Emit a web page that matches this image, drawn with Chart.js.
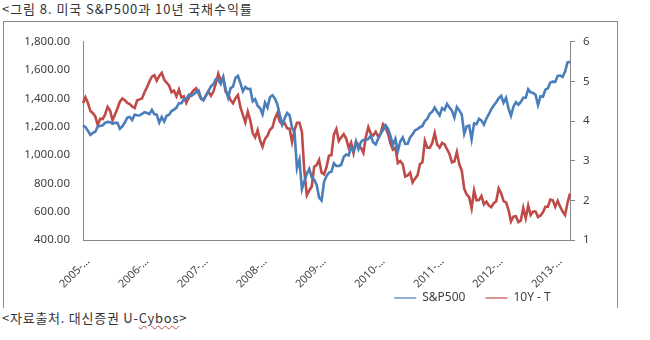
<!DOCTYPE html>
<html>
<head>
<meta charset="utf-8">
<script src="https://cdn.jsdelivr.net/npm/chart.js@4"></script>
<style>
  html, body { margin: 0; padding: 0; background: #fff; }
  body { width: 650px; height: 340px; position: relative; overflow: hidden;
         font-family: "Noto Sans CJK KR", "Noto Sans", sans-serif; color: #333; }
  #title { position: absolute; left: 2px; top: 0px; font-size: 13px; line-height: 18px; letter-spacing: 0.95px; white-space: nowrap; }
  #frame { position: absolute; left: 3px; top: 21px; width: 615px; height: 287px;
           box-sizing: border-box; border: 1px solid #8a8a8a; border-bottom: none; }
  #frame canvas { display: block; }
  #source { position: absolute; left: 2px; top: 309px; font-size: 13px; line-height: 18px; letter-spacing: 0.75px; white-space: nowrap; }
  .typo { text-decoration: underline wavy #c0504d; text-decoration-thickness: 1px; text-underline-offset: 2px; }
</style>
</head>
<body>
<div id="title">&lt;그림 8. 미국 S&amp;P500과 10년 국채수익률</div>
<div id="frame"><canvas id="chart" width="613" height="286"></canvas></div>
<div id="source">&lt;자료출처. 대신증권 U-<span class="typo">Cybos</span>&gt;</div>
<script>
/* --- Data: 1st and 15th of each month, 2005-03 .. 2013-06 --- */
var startYear = 2005;
var startMonth = 3;
var tickEvery = 24; // one label a year

var spx = [
  // 2005 (Mar-Dec)
  1210, 1198, 1172, 1143, 1157, 1165, 1202, 1206, 1211, 1228,
  1235, 1233, 1221, 1228, 1228, 1186, 1203, 1230, 1265, 1270,
  // 2006
  1248, 1285, 1282, 1280, 1292, 1303, 1297, 1290, 1320, 1290, 1285, 1230,
  1270, 1237, 1278, 1285, 1311, 1321, 1336, 1366, 1367, 1396, 1396, 1427,
  // 2007
  1418, 1431, 1445, 1456, 1403, 1387, 1421, 1452, 1486, 1501, 1536, 1532,
  1503, 1553, 1465, 1406, 1473, 1484, 1547, 1560, 1508, 1451, 1481, 1467,
  // 2008
  1468, 1380, 1395, 1349, 1331, 1288, 1370, 1335, 1409, 1423, 1400, 1360,
  1284, 1215, 1260, 1298, 1282, 1193, 1161, 907, 968, 760, 816, 868,
  // 2009
  903, 843, 826, 790, 700, 680, 811, 852, 877, 882, 942, 923,
  923, 932, 987, 1004, 998, 1052, 1029, 1096, 1042, 1093, 1108, 1107,
  // 2010
  1115, 1136, 1089, 1075, 1115, 1150, 1178, 1211, 1187, 1136, 1070, 1115,
  1027, 1096, 1125, 1079, 1080, 1125, 1146, 1176, 1184, 1197, 1206, 1241,
  // 2011
  1257, 1293, 1307, 1336, 1306, 1281, 1332, 1319, 1361, 1337, 1314, 1265,
  1340, 1316, 1286, 1150, 1204, 1209, 1110, 1224, 1218, 1257, 1244, 1215,
  // 2012
  1258, 1289, 1324, 1350, 1374, 1402, 1419, 1370, 1405, 1330, 1278, 1342,
  1374, 1356, 1376, 1405, 1406, 1465, 1444, 1440, 1427, 1354, 1416, 1413,
  // 2013 (Jan - Jun 1)
  1462, 1472, 1513, 1519, 1518, 1560, 1562, 1553, 1590, 1655, 1660
];

var tnx = [
  // 2005 (Mar-Dec)
  4.45, 4.60, 4.46, 4.26, 4.20, 4.12, 3.90, 4.06, 4.05, 4.17,
  4.36, 4.27, 4.02, 4.17, 4.32, 4.49, 4.57, 4.53, 4.46, 4.43,
  // 2006
  4.37, 4.33, 4.52, 4.55, 4.57, 4.73, 4.85, 5.00, 5.12, 5.16, 5.02, 5.14,
  5.22, 5.05, 4.97, 4.90, 4.73, 4.77, 4.63, 4.80, 4.60, 4.63, 4.46, 4.59,
  // 2007
  4.70, 4.78, 4.83, 4.70, 4.56, 4.54, 4.65, 4.75, 4.64, 4.74, 4.95, 5.20,
  5.03, 5.09, 4.74, 4.68, 4.53, 4.45, 4.58, 4.66, 4.35, 4.16, 3.97, 4.24,
  // 2008
  4.02, 3.70, 3.59, 3.77, 3.51, 3.35, 3.55, 3.63, 3.78, 3.84, 4.06, 4.20,
  3.99, 3.92, 3.95, 3.82, 3.81, 3.47, 3.78, 3.96, 3.96, 3.73, 2.73, 2.13,
  // 2009
  2.25, 2.35, 2.85, 2.89, 3.02, 2.70, 2.66, 2.84, 3.13, 3.14, 3.66, 3.80,
  3.50, 3.59, 3.67, 3.56, 3.33, 3.46, 3.19, 3.48, 3.39, 3.33, 3.20, 3.60,
  // 2010
  3.85, 3.68, 3.64, 3.73, 3.61, 3.69, 3.92, 3.83, 3.69, 3.44, 3.28, 3.33,
  2.94, 2.99, 2.91, 2.60, 2.63, 2.70, 2.45, 2.55, 2.63, 2.92, 2.96, 3.50,
  // 2011
  3.33, 3.33, 3.45, 3.70, 3.41, 3.33, 3.45, 3.41, 3.29, 3.17, 2.96, 2.98,
  3.22, 2.91, 2.75, 2.29, 2.15, 2.08, 1.80, 2.25, 2.00, 2.01, 2.11, 1.90,
  // 2012
  1.97, 1.87, 1.83, 1.93, 1.98, 2.30, 2.18, 1.98, 1.95, 1.76, 1.47, 1.59,
  1.60, 1.45, 1.49, 1.81, 1.55, 1.87, 1.63, 1.72, 1.72, 1.58, 1.62, 1.70,
  // 2013 (Jan - Jun 1)
  1.84, 1.84, 2.02, 2.00, 1.84, 1.99, 1.84, 1.72, 1.63, 1.94, 2.17
];

var leftTicks = [400, 600, 800, 1000, 1200, 1400, 1600, 1800];
var rightTicks = [1, 2, 3, 4, 5, 6];

/* --- Category labels (dates) --- */
function pad2(n) { return (n < 10 ? "0" : "") + n; }
var labels = [];
for (var i = 0; i < spx.length; i++) {
  var m = startMonth - 1 + Math.floor(i / 2);
  var y = startYear + Math.floor(m / 12);
  labels.push(y + "-" + pad2((m % 12) + 1) + "-" + (i % 2 ? "15" : "01"));
}

var BLUE = "#4a7ebb";
var RED = "#be4b48";
var AXIS = "#868686";
var FONT = '"Noto Sans", "Noto Sans CJK KR", sans-serif';

Chart.defaults.font.family = FONT;
Chart.defaults.color = "#404040";

/* move the legend: the original sits right of centre, close under the labels.
   the legend clips to its own box, so grow the box upward instead of moving it */
var legendShift = {
  id: "legendShift",
  afterLayout: function (chart) {
    var lg = chart.legend;
    if (!lg) return;
    lg.left += 162;
    lg.right += 162;
    lg.top -= 18;
  }
};

new Chart(document.getElementById("chart"), {
  type: "line",
  data: {
    labels: labels,
    datasets: [
      {
        label: "S&P500",
        data: spx,
        borderColor: BLUE,
        backgroundColor: BLUE,
        borderWidth: 2.6,
        pointRadius: 0,
        tension: 0,
        yAxisID: "y"
      },
      {
        label: "10Y - T",
        data: tnx,
        borderColor: RED,
        backgroundColor: RED,
        borderWidth: 2.6,
        pointRadius: 0,
        tension: 0,
        yAxisID: "y1"
      }
    ]
  },
  options: {
    responsive: false,
    animation: false,
    layout: { padding: { top: 16, left: 0, right: 0, bottom: 0 } },
    plugins: {
      tooltip: { enabled: false },
      legend: {
        position: "bottom",
        maxHeight: 18,
        labels: {
          usePointStyle: true,
          pointStyle: "line",
          pointStyleWidth: 22,
          padding: 20,
          color: "#404040",
          font: { size: 12 },
          generateLabels: function (chart) {
            var items = Chart.defaults.plugins.legend.labels.generateLabels(chart);
            items.forEach(function (it) { it.lineWidth = 1.2; });
            return items;
          }
        }
      }
    },
    scales: {
      x: {
        type: "category",
        offset: false,
        grid: { display: false, drawTicks: false },
        border: { color: AXIS, width: 1 },
        ticks: {
          autoSkip: false,
          maxRotation: 45,
          minRotation: 45,
          padding: 15,
          labelOffset: 5,
          font: { size: 11 },
          callback: function (v, idx) {
            if (idx % tickEvery !== 0) return null;
            return this.getLabelForValue(v).slice(0, 5) + "…";
          }
        },
        afterFit: function (s) { s.height = 50; }
      },
      y: {
        position: "left",
        min: 400,
        max: 1800,
        afterBuildTicks: function (s) {
          s.ticks = leftTicks.map(function (v) { return { value: v }; });
        },
        grid: { display: false, drawTicks: false },
        border: { color: AXIS, width: 1 },
        ticks: {
          padding: 13,
          font: { size: 11.5 },
          callback: function (v) {
            return Number(v).toLocaleString("en-US", { minimumFractionDigits: 2, maximumFractionDigits: 2 });
          }
        },
        afterFit: function (s) { s.width = 79; }
      },
      y1: {
        position: "right",
        min: 1,
        max: 6,
        afterBuildTicks: function (s) {
          s.ticks = rightTicks.map(function (v) { return { value: v }; });
        },
        grid: { display: true, drawOnChartArea: false, drawTicks: true, tickLength: 5, color: AXIS },
        border: { color: AXIS, width: 1 },
        ticks: { padding: 8, font: { size: 11.5 } },
        afterFit: function (s) { s.width = 47; }
      }
    }
  },
  plugins: [legendShift]
});
</script>
</body>
</html>
